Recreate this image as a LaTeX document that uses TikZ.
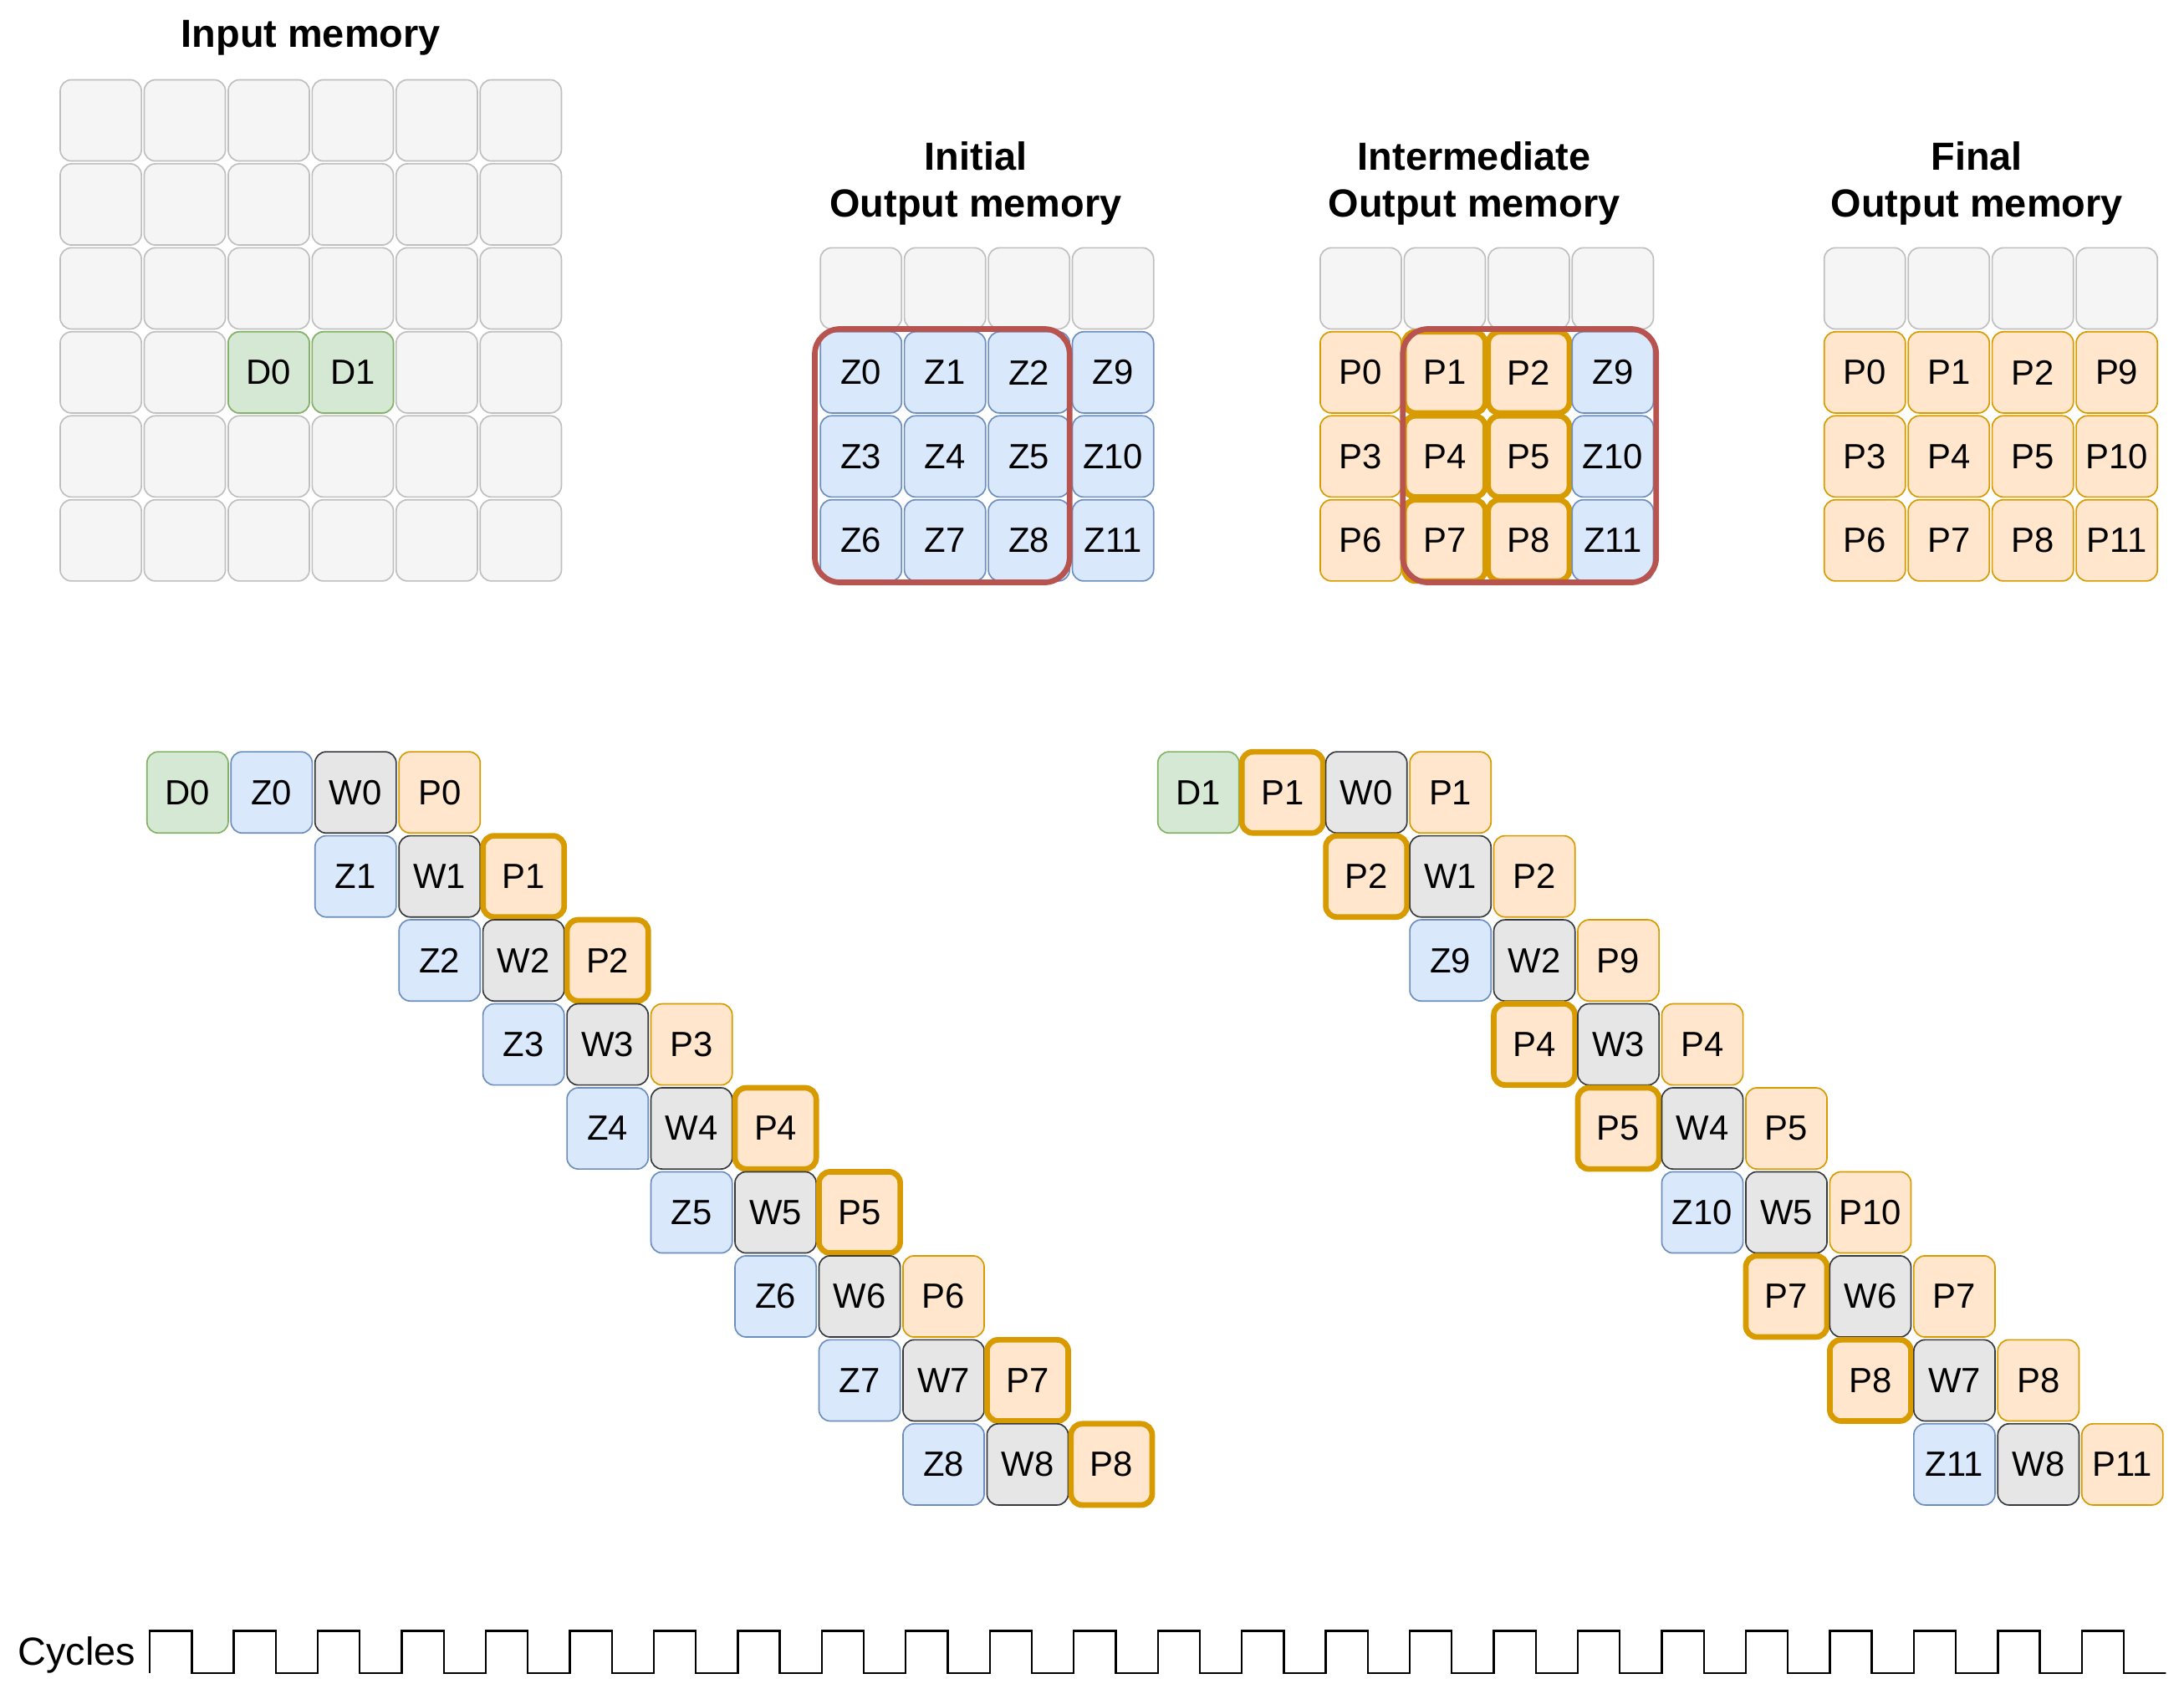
\documentclass[tikz,border=0pt]{standalone}
\usepackage{fontspec}
\setmainfont{Liberation Sans}
\begin{document}
\begin{tikzpicture}[x=0.5pt,y=-0.5pt,
 cell/.style={draw,rounded corners=4pt,minimum size=29pt,inner sep=0pt,font=\fontsize{12.5}{14}\selectfont,line width=0.5pt},
 E/.style={cell,fill=gray!8,draw=gray!50},
 G/.style={cell,fill=green!10!white,draw=green!40!gray,fill={rgb,255:red,213;green,232;blue,212},draw={rgb,255:red,130;green,179;blue,102}},
 B/.style={cell,fill={rgb,255:red,218;green,232;blue,252},draw={rgb,255:red,108;green,142;blue,191}},
 O/.style={cell,fill={rgb,255:red,255;green,230;blue,204},draw={rgb,255:red,215;green,155;blue,0}},
 T/.style={O,line width=2pt},
 W/.style={cell,fill={rgb,255:red,230;green,230;blue,230},draw={rgb,255:red,54;green,57;blue,61}},
 red/.style={draw={rgb,255:red,184;green,84;blue,80},line width=2pt,rounded corners=9pt},
 title/.style={font=\bfseries\fontsize{14}{17}\selectfont,align=center}]
\useasboundingbox (0,0) rectangle (1560,1206);
% input memory
\node[title] (t0) at (222,27) {Input memory};
\foreach \r in {0,...,5}{\foreach \c in {0,...,5}{
  \node[E] (in\r\c) at (72+60*\c,86+60*\r) {};}}
\node[G] (d0) at (192,266) {D0};
\node[G] (d1) at (252,266) {D1};
% output memories
\node[title] (t1) at (697,131) {Initial\\Output memory};
\node[title] (t2) at (1053,131) {Intermediate\\Output memory};
\node[title] (t3) at (1412,131) {Final\\Output memory};
\foreach \c in {0,...,3}{
 \node[E] (ia\c) at (615+60*\c,206) {};
 \node[E] (ib\c) at (972+60*\c,206) {};
 \node[E] (ic\c) at (1332+60*\c,206) {};}
\foreach \t [count=\i from 0] in {Z0,Z1,Z2,Z9,Z3,Z4,Z5,Z10,Z6,Z7,Z8,Z11}{
 \pgfmathtruncatemacro\c{mod(\i,4)}\pgfmathtruncatemacro\r{div(\i,4)}
 \node[B] (ma\i) at (615+60*\c,266+60*\r) {\t};}
\foreach \t/\s [count=\i from 0] in {P0/O,P1/T,P2/T,Z9/B,P3/O,P4/T,P5/T,Z10/B,P6/O,P7/T,P8/T,Z11/B}{
 \pgfmathtruncatemacro\c{mod(\i,4)}\pgfmathtruncatemacro\r{div(\i,4)}
 \node[\s] (mb\i) at (972+60*\c,266+60*\r) {\t};}
\foreach \t [count=\i from 0] in {P0,P1,P2,P9,P3,P4,P5,P10,P6,P7,P8,P11}{
 \pgfmathtruncatemacro\c{mod(\i,4)}\pgfmathtruncatemacro\r{div(\i,4)}
 \node[O] (mc\i) at (1332+60*\c,266+60*\r) {\t};}
\draw[red] (582,235) rectangle (764,416);
\draw[red] (1002,235) rectangle (1183,416);
% left pipeline
\node[G] (ld) at (134,566) {D0};
\foreach \k in {0,...,8}{
 \pgfmathsetmacro\y{566+60*\k}
 \node[B] (lz\k) at (194+60*\k,\y) {Z\k};
 \node[W] (lw\k) at (254+60*\k,\y) {W\k};
 \pgfmathtruncatemacro\m{mod(\k,3)}
 \ifnum\m=0 \node[O] (lp\k) at (314+60*\k,\y) {P\k};
 \else \node[T] (lp\k) at (314+60*\k,\y) {P\k};\fi}
% right pipeline
\node[G] (rd) at (856,566) {D1};
\foreach \a/\sa/\p [count=\k from 0] in {P1/T/P1,P2/T/P2,Z9/B/P9,P4/T/P4,P5/T/P5,Z10/B/P10,P7/T/P7,P8/T/P8,Z11/B/P11}{
 \pgfmathsetmacro\y{566+60*\k}
 \pgfmathtruncatemacro\kk{\k}
 \node[\sa] (ra\k) at (916+60*\k,\y) {\a};
 \node[W] (rw\k) at (976+60*\k,\y) {W\kk};
 \node[O] (rp\k) at (1036+60*\k,\y) {\p};}
% cycles
\node[font=\fontsize{14}{17}\selectfont,anchor=east] (cyc) at (104,1182) {Cycles};
\draw[line width=0.7pt] (107,1195) -- (107,1165)
 \foreach \i in {0,...,23}{ -- ++(30,0) -- ++(0,30) -- ++(30,0) \ifnum\i<23 -- ++(0,-30)\fi} -- (1545,1195);
\end{tikzpicture}
\end{document}
